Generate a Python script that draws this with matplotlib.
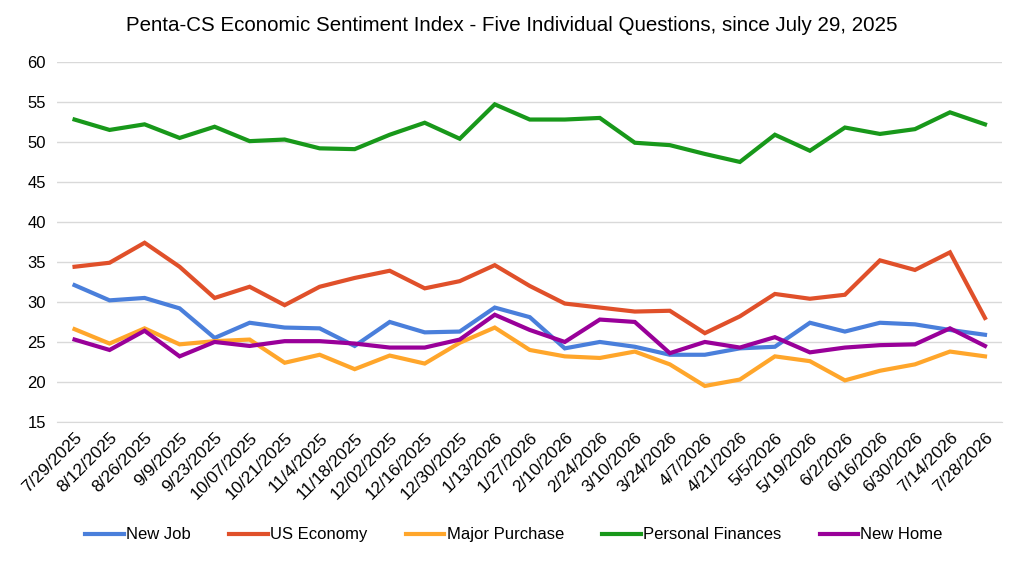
import matplotlib
matplotlib.use("Agg")
import matplotlib.pyplot as plt

plt.rcParams['font.family'] = ['Liberation Sans', 'DejaVu Sans']

dates = ["7/29/2025", "8/12/2025", "8/26/2025", "9/9/2025", "9/23/2025",
         "10/07/2025", "10/21/2025", "11/4/2025", "11/18/2025", "12/02/2025",
         "12/16/2025", "12/30/2025", "1/13/2026", "1/27/2026", "2/10/2026",
         "2/24/2026", "3/10/2026", "3/24/2026", "4/7/2026", "4/21/2026",
         "5/5/2026", "5/19/2026", "6/2/2026", "6/16/2026", "6/30/2026",
         "7/14/2026", "7/28/2026"]

new_job = [32.1, 30.2, 30.5, 29.2, 25.5, 27.4, 26.8, 26.7, 24.5, 27.5,
           26.2, 26.3, 29.3, 28.1, 24.2, 25.0, 24.4, 23.4, 23.4, 24.2,
           24.4, 27.4, 26.3, 27.4, 27.2, 26.5, 25.9]
us_economy = [34.4, 34.9, 37.4, 34.4, 30.5, 31.9, 29.6, 31.9, 33.0, 33.9,
              31.7, 32.6, 34.6, 32.0, 29.8, 29.3, 28.8, 28.9, 26.1, 28.2,
              31.0, 30.4, 30.9, 35.2, 34.0, 36.2, 28.0]
major_purchase = [26.6, 24.8, 26.7, 24.7, 25.1, 25.3, 22.4, 23.4, 21.6, 23.3,
                  22.3, 24.9, 26.8, 24.0, 23.2, 23.0, 23.8, 22.2, 19.5, 20.3,
                  23.2, 22.6, 20.2, 21.4, 22.2, 23.8, 23.2]
personal_finances = [52.8, 51.5, 52.2, 50.5, 51.9, 50.1, 50.3, 49.2, 49.1, 50.9,
                     52.4, 50.4, 54.7, 52.8, 52.8, 53.0, 49.9, 49.6, 48.5, 47.5,
                     50.9, 48.9, 51.8, 51.0, 51.6, 53.7, 52.2]
new_home = [25.3, 24.0, 26.4, 23.2, 25.0, 24.5, 25.1, 25.1, 24.8, 24.3,
            24.3, 25.3, 28.4, 26.5, 25.0, 27.8, 27.5, 23.6, 25.0, 24.3,
            25.6, 23.7, 24.3, 24.6, 24.7, 26.7, 24.5]

series = [("New Job", new_job, "#4a7fdb"),
          ("US Economy", us_economy, "#e0502a"),
          ("Major Purchase", major_purchase, "#ffa62b"),
          ("Personal Finances", personal_finances, "#18981a"),
          ("New Home", new_home, "#990099")]

fig = plt.figure(figsize=(10.24, 5.63), dpi=100)
ax = fig.add_axes([0.0557, 0.2505, 0.9233, 0.6395])

x = list(range(len(dates)))
for name, vals, col in series:
    ax.plot(x, vals, color=col, lw=3, label=name, solid_joinstyle="miter")

ax.set_xlim(-0.5, len(dates) - 0.5)
ax.set_ylim(15, 60)
ax.set_yticks(range(15, 61, 5))
ax.grid(axis="y", color="#d9d9d9", lw=1)
ax.set_axisbelow(True)
for s in ["top", "right", "left"]:
    ax.spines[s].set_visible(False)
ax.spines["bottom"].set_color("#d9d9d9")
ax.tick_params(axis="both", length=0, labelsize=12)
ax.tick_params(axis="y", pad=8)
ax.tick_params(axis="x", pad=6)
ax.set_xticks(x)
ax.set_xticklabels(dates, rotation=45, ha="right", rotation_mode="anchor", fontsize=12.5)

fig.suptitle("Penta-CS Economic Sentiment Index - Five Individual Questions, since July 29, 2025",
             fontsize=14.8, y=0.972)

fig.legend(loc="center", bbox_to_anchor=(0.502, 0.05), ncol=5, frameon=False,
           fontsize=12, handlelength=2.3, handletextpad=0.15, columnspacing=2.3)

fig.savefig("out.png", dpi=100)
